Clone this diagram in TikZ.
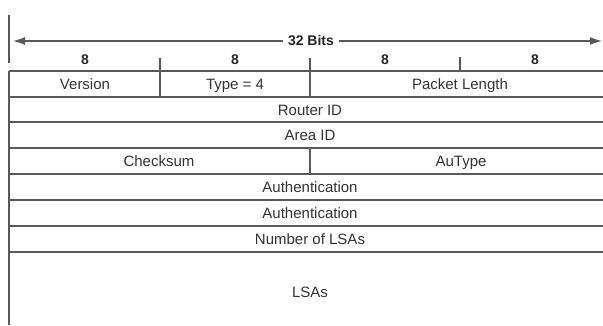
\documentclass[tikz,border=0pt]{standalone}
\usepackage{fontspec}
\setmainfont{Liberation Sans}
\usetikzlibrary{arrows.meta}

\begin{document}
\begin{tikzpicture}[x=1pt,y=-1pt,
    rule/.style={draw=black!65, line width=1.3pt},
    field/.style={font=\fontsize{15}{17}\selectfont, text=black!80,
        text height=1.6ex, text depth=.4ex},
    bitlabel/.style={font=\bfseries\fontsize{14}{16}\selectfont, text=black!85}]
    \useasboundingbox (0,0) rectangle (603,325);
    \fill[white] (0,0) rectangle (603,325);

    % width of the header
    \node[bitlabel, inner sep=5pt] (bits) at (311,41) {32 Bits};
    \coordinate (wl) at (13,41);
    \coordinate (wr) at (602,41);
    \draw[rule, -{Latex[length=12pt,width=8pt]}] (bits) -- (wl);
    \draw[rule, -{Latex[length=12pt,width=8pt]}] (bits) -- (wr);

    % octets
    \foreach \x/\name in {85/oa, 235/ob, 385/oc, 535/od}
        \node[bitlabel] (\name) at (\x,60) {8};

    % left edge and rows
    \draw[rule] (9,15) -- (9,63);
    \draw[rule] (9,71) -- (9,325);
    \foreach \y in {71,97,122,148,174,200,226,252}
        \draw[rule] (9,\y) -- (603,\y);

    % dividers
    \draw[rule] (160,58) -- (160,97);
    \draw[rule] (310,58) -- (310,97);
    \draw[rule] (460,57) -- (460,71);
    \draw[rule] (310,148) -- (310,174);

    % fields
    \node[field] (version) at (85,86) {Version};
    \node[field] (type) at (235,86) {Type = 4};
    \node[field] (length) at (460,86) {Packet Length};
    \node[field] (router) at (310,112) {Router ID};
    \node[field] (area) at (310,137) {Area ID};
    \node[field] (checksum) at (159,163) {Checksum};
    \node[field] (autype) at (461,163) {AuType};
    \node[field] (autha) at (310,189) {Authentication};
    \node[field] (authb) at (310,215) {Authentication};
    \node[field] (numlsa) at (310,241) {Number of LSAs};
    \node[field] (lsas) at (310,294) {LSAs};
\end{tikzpicture}
\end{document}
